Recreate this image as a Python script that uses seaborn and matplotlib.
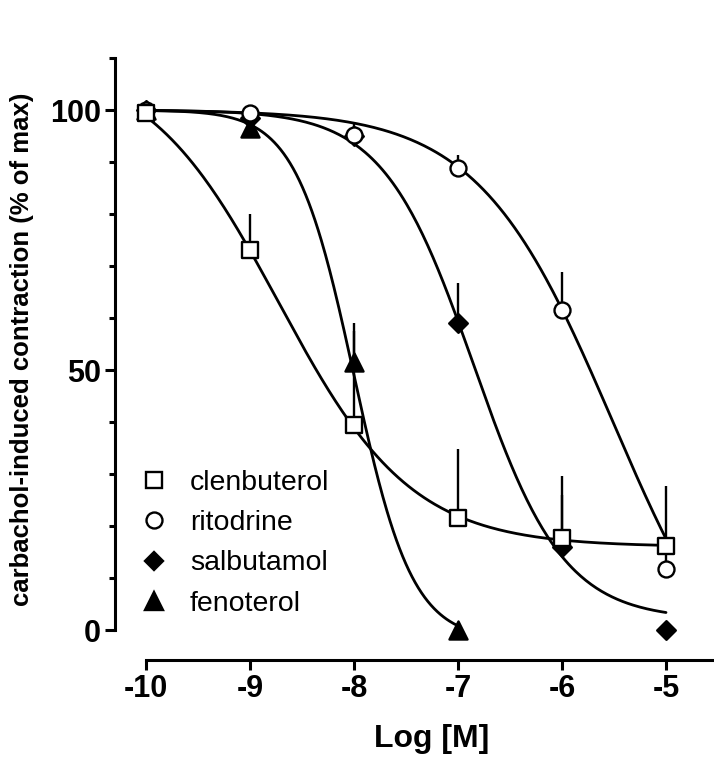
import matplotlib
matplotlib.use("Agg")
import matplotlib.pyplot as plt
from matplotlib.lines import Line2D
from matplotlib.ticker import MultipleLocator
import numpy as np
import pandas as pd
import seaborn as sns

# mean response (% of max) and upward SEM per log dose
log_dose = [-10, -9, -8, -7, -6, -5]
clen_mean = [99.5, 73.0, 39.5, 21.5, 17.7, 16.2]
clen_sem = [0.0, 7.0, 19.5, 13.3, 11.9, 11.5]
rito_mean = [100.0, 99.4, 95.2, 88.8, 61.5, 11.7]
rito_sem = [0.0, 0.0, 2.5, 2.5, 7.3, 4.5]
salb_mean = [100.0, 98.5, 95.0, 59.0, 16.0, 0.0]
salb_sem = [0.0, 0.0, 2.0, 7.7, 10.0, 0.0]
feno_dose = [-10, -9, -8, -7]
feno_mean = [100.0, 96.5, 51.5, 0.0]
feno_sem = [0.0, 1.0, 6.0, 0.0]

# four-parameter logistic fits (top, bottom, logEC50, hill)
fit_top = [110, 100, 100, 100]
fit_bottom = [16, -20, 2, -2]
fit_logec50 = [-8.725, -5.51, -6.85, -8.0]
fit_hill = [0.68, 0.67, 1.0, 1.55]
fit_end = [-5, -5, -5, -7]

drugs = ["clenbuterol", "ritodrine", "salbutamol", "fenoterol"]
markers = ["s", "o", "D", "^"]
faces = ["white", "white", "black", "black"]
msizes = [11, 11.5, 9.5, 13]

data = [
    (log_dose, clen_mean, clen_sem),
    (log_dose, rito_mean, rito_sem),
    (log_dose, salb_mean, salb_sem),
    (feno_dose, feno_mean, feno_sem),
]


def logistic(x, top, bottom, logec50, hill):
    return bottom + (top - bottom) / (1 + 10 ** ((x - logec50) * hill))


sns.set_style("ticks")
plt.rcParams["font.family"] = ["Liberation Sans", "DejaVu Sans"]
for key in ["text.color", "axes.labelcolor", "xtick.color", "ytick.color",
            "axes.edgecolor"]:
    plt.rcParams[key] = "black"

fig = plt.figure(figsize=(7.14, 7.58), dpi=100)
ax = fig.add_axes([146 / 714, 128 / 758, 572 / 714, 572 / 758])

# draw back to front so clenbuterol sits on top
for i in [3, 2, 1, 0]:
    x, y, err = data[i]
    xs = np.linspace(-10, fit_end[i], 300)
    curve = pd.DataFrame({"x": xs, "y": logistic(xs, fit_top[i], fit_bottom[i],
                                                 fit_logec50[i], fit_hill[i])})
    sns.lineplot(data=curve, x="x", y="y", color="black", lw=2.0, ax=ax,
                 zorder=2, clip_on=False)
    ax.errorbar(x, y, yerr=[np.zeros(len(err)), err], fmt="none",
                ecolor="black", elinewidth=1.7, capsize=0, zorder=2, clip_on=False)
    pts = pd.DataFrame({"x": x, "y": y})
    sns.scatterplot(data=pts, x="x", y="y", marker=markers[i], s=msizes[i] ** 2,
                    color=faces[i], edgecolor="black", linewidth=1.7, ax=ax,
                    zorder=4 + (3 - i), clip_on=False)

ax.set_xlim(-10, -4.5)
ax.set_ylim(0, 110)
sns.despine(ax=ax)
# offsets of 31 px and 30 px, given in points
ax.spines["left"].set_position(("outward", 31 * 0.72))
ax.spines["bottom"].set_position(("outward", 30 * 0.72))
ax.spines["left"].set_bounds(0, 110)
ax.spines["bottom"].set_bounds(-10, -4.5)
for s in ["left", "bottom"]:
    ax.spines[s].set_linewidth(2.2)

ax.set_xticks(log_dose)
ax.set_xticklabels([str(v) for v in log_dose])
ax.set_yticks([0, 50, 100])
ax.yaxis.set_minor_locator(MultipleLocator(10))
ax.tick_params(axis="both", which="major", length=7, width=2.2, pad=3,
               labelsize=22, color="black")
ax.tick_params(axis="y", which="minor", length=4, width=2.2, color="black")
for lab in ax.get_xticklabels() + ax.get_yticklabels():
    lab.set_fontweight("bold")

ax.set_xlabel("Log [M]", fontsize=23, fontweight="bold")
ax.set_ylabel("carbachol-induced contraction (% of max)", fontsize=18.5,
              fontweight="bold")
ax.xaxis.set_label_coords(0.5, -0.165)
ax.yaxis.set_label_coords(-0.196, 0.49)

handles = [Line2D([], [], ls="none", marker=markers[i], markersize=msizes[i],
                  markerfacecolor=faces[i], markeredgecolor="black",
                  markeredgewidth=1.7) for i in range(4)]
ax.legend(handles, drugs, loc="upper left", bbox_to_anchor=(140 / 714, 1 - 470 / 758),
          bbox_transform=fig.transFigure, frameon=False, fontsize=20.5,
          handlelength=1.0, handletextpad=0.75, labelspacing=0.5,
          borderpad=0, borderaxespad=0)

fig.savefig("out.png", dpi=100)
